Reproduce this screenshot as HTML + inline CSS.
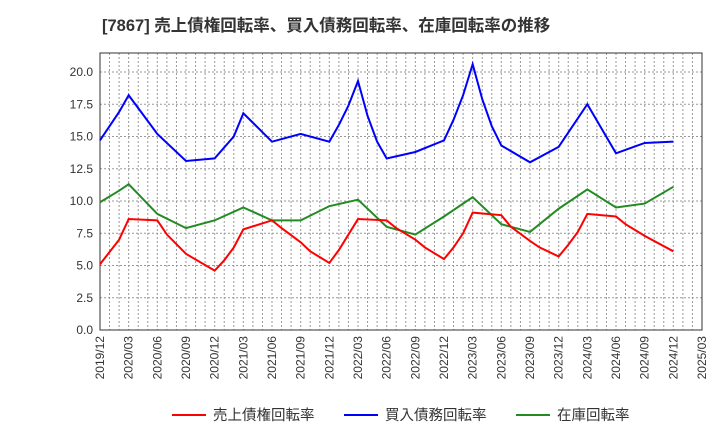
<!DOCTYPE html>
<html><head><meta charset="utf-8"><style>
body{margin:0;background:#fff;font-family:"Liberation Sans","Noto Sans CJK JP",sans-serif}
</style></head><body>
<svg id="c" width="720" height="440" xmlns="http://www.w3.org/2000/svg" font-family="Liberation Sans, Noto Sans CJK JP, sans-serif"></svg>
<script>
const xTicks=["2019/12","2020/03","2020/06","2020/09","2020/12","2021/03","2021/06","2021/09","2021/12","2022/03","2022/06","2022/09","2022/12","2023/03","2023/06","2023/09","2023/12","2024/03","2024/06","2024/09","2024/12","2025/03"];
const yTicks=[0,2.5,5,7.5,10,12.5,15,17.5,20];
const redDates=["2019/12","2020/02","2020/03","2020/06","2020/07","2020/09","2020/12","2021/01","2021/02","2021/03","2021/06","2021/07","2021/09","2021/10","2021/12","2022/01","2022/02","2022/03","2022/06","2022/07","2022/09","2022/10","2022/12","2023/01","2023/02","2023/03","2023/06","2023/07","2023/09","2023/10","2023/12","2024/01","2024/02","2024/03","2024/06","2024/07","2024/09","2024/12"];
const redVals=[5.1,7.0,8.6,8.5,7.4,5.9,4.6,5.4,6.4,7.8,8.5,7.9,6.8,6.1,5.2,6.2,7.4,8.6,8.5,7.9,7.0,6.4,5.5,6.4,7.5,9.1,8.9,8.0,6.9,6.4,5.7,6.6,7.6,9.0,8.8,8.2,7.3,6.1];
const blueDates=["2019/12","2020/02","2020/03","2020/06","2020/09","2020/12","2021/02","2021/03","2021/06","2021/09","2021/12","2022/01","2022/02","2022/03","2022/04","2022/05","2022/06","2022/09","2022/12","2023/01","2023/02","2023/03","2023/04","2023/05","2023/06","2023/09","2023/12","2024/03","2024/06","2024/09","2024/12"];
const blueVals=[14.7,16.9,18.2,15.2,13.1,13.3,15.0,16.8,14.6,15.2,14.6,15.9,17.4,19.3,16.6,14.6,13.3,13.8,14.7,16.3,18.2,20.6,17.9,15.8,14.3,13.0,14.2,17.5,13.7,14.5,14.6];
const greenDates=["2019/12","2020/02","2020/03","2020/06","2020/09","2020/12","2021/03","2021/06","2021/09","2021/12","2022/03","2022/06","2022/09","2022/12","2023/03","2023/06","2023/09","2023/12","2024/03","2024/06","2024/09","2024/12"];
const greenVals=[9.9,10.8,11.3,9.0,7.9,8.5,9.5,8.5,8.5,9.6,10.1,8.0,7.4,8.8,10.3,8.2,7.6,9.4,10.9,9.5,9.8,11.1];

const svg=document.getElementById('c');const NS='http://www.w3.org/2000/svg';
const L=100,R=702,T=53,B=330;
function mi(d){const [y,m]=d.split('/').map(Number);return (y-2019)*12+m-12;}
const X=d=>L+mi(d)*(R-L)/63;
const Y=v=>B-v*(B-72)/20;
function el(t,a,p){const e=document.createElementNS(NS,t);for(const k in a)e.setAttribute(k,a[k]);(p||svg).appendChild(e);return e;}
for(let m=1;m<63;m++){const x=L+m*(R-L)/63;const g=el('line',{x1:x,x2:x,y1:T,y2:B,stroke:'#999','stroke-dasharray':'2,2','stroke-width':1});
}
yTicks.forEach(v=>{const y=Y(v);const g=el('line',{x1:L,x2:R,y1:y,y2:y,stroke:'#999','stroke-dasharray':'2,2','stroke-width':1});

const t=el('text',{x:L-7,y:y+4,'text-anchor':'end','font-size':12,fill:'#333'});t.textContent=v.toFixed(1);
});
xTicks.forEach(d=>{const x=X(d);const t=el('text',{transform:`translate(${x+4},${B+6}) rotate(-90)`,'text-anchor':'end','font-size':12,fill:'#333'});t.textContent=d;
});
const frame=el('rect',{x:L,y:T,width:R-L,height:B-T,fill:'none',stroke:'#333','stroke-width':1});

function series(ds,vs,c,n){const p=el('polyline',{points:ds.map((d,i)=>X(d)+','+Y(vs[i])).join(' '),fill:'none',stroke:c,'stroke-width':2});
}
series(greenDates,greenVals,'#228b22','inventory-turnover-line');
series(redDates,redVals,'#ff0000','receivables-turnover-line');
series(blueDates,blueVals,'#0000ff','payables-turnover-line');
const title=el('text',{x:102,y:31,'font-size':16.5,'font-weight':'bold',fill:'#333'});title.textContent='[7867]  売上債権回転率、買入債務回転率、在庫回転率の推移';

[['売上債権回転率','#ff0000',172],['買入債務回転率','#0000ff',344],['在庫回転率','#228b22',516]].forEach(([n,c,x])=>{
const g=el('g',{});
el('line',{x1:x,x2:x+34,y1:415,y2:415,stroke:c,'stroke-width':2},g);
const t=el('text',{x:x+41,y:420,'font-size':14.5,fill:'#333'},g);t.textContent=n;});
</script>
</body></html>
